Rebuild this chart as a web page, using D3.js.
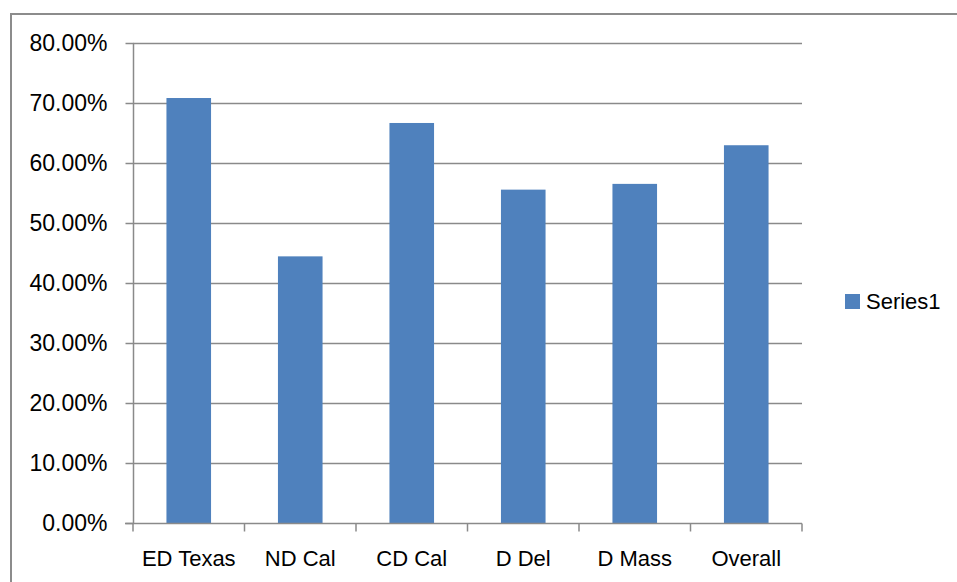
<!DOCTYPE html>
<html>
<head>
<meta charset="utf-8">
<script src="https://cdn.jsdelivr.net/npm/d3@7/dist/d3.min.js"></script>
<style>
  html, body { margin: 0; padding: 0; background: #fff; }
  svg { display: block; }
  text { font-family: "Liberation Sans", Arial, sans-serif; fill: #000; }
</style>
</head>
<body>
<svg id="chart" width="957" height="582"></svg>
<script>
// Share of outcomes per district
const categories = ["ED Texas", "ND Cal", "CD Cal", "D Del", "D Mass", "Overall"];
const series1 = [0.7083, 0.4444, 0.6667, 0.5556, 0.5652, 0.6296];
const yTicks = [0, 0.1, 0.2, 0.3, 0.4, 0.5, 0.6, 0.7, 0.8];
const seriesName = "Series1";

const svg = d3.select("#chart");
const W = 957, H = 582;

// outer chart frame
svg.append("rect")
  .attr("x", 11).attr("y", 14)
  .attr("width", W + 20).attr("height", H + 20)
  .attr("fill", "#fff")
  .attr("stroke", "#8c8c8c")
  .attr("stroke-width", 2);

const plot = { left: 133, right: 802, top: 43, bottom: 523 };

const x = d3.scaleBand()
  .domain(categories)
  .range([plot.left, plot.right])
  .paddingInner(0.6)
  .paddingOuter(0.3);

const y = d3.scaleLinear()
  .domain([0, 0.8])
  .range([plot.bottom, plot.top]);

const band = d3.scaleBand().domain(categories).range([plot.left, plot.right]);

// horizontal gridlines
svg.append("g")
  .selectAll("line")
  .data(yTicks.filter(d => d > 0))
  .join("line")
  .attr("x1", plot.left).attr("x2", plot.right)
  .attr("y1", d => Math.round(y(d)) + 0.5).attr("y2", d => Math.round(y(d)) + 0.5)
  .attr("stroke", "#8a8a8a")
  .attr("stroke-width", 1.5);

// y axis
const yAxis = d3.axisLeft(y)
  .tickValues(yTicks)
  .tickFormat(d => (d * 100).toFixed(2) + "%")
  .tickSize(8)
  .tickPadding(18);
const gy = svg.append("g")
  .attr("transform", `translate(${plot.left + 0.5},0)`)
  .call(yAxis);
gy.select(".domain").attr("stroke", "#8a8a8a").attr("stroke-width", 1.5)
  .attr("d", `M0,${plot.top}V${plot.bottom}`);
gy.selectAll(".tick line").attr("stroke", "#8a8a8a").attr("stroke-width", 1.5);
gy.selectAll(".tick text")
  .style("font-family", "'Liberation Sans', Arial, sans-serif")
  .attr("font-size", 23)
  .attr("fill", "#000");

// bars
svg.append("g")
  .selectAll("rect")
  .data(categories.map((c, i) => ({ c, v: series1[i] })))
  .join("rect")
  .attr("x", d => x(d.c))
  .attr("width", x.bandwidth())
  .attr("y", d => y(d.v))
  .attr("height", d => y(0) - y(d.v))
  .attr("fill", "#4f81bd");

// x axis with ticks at category boundaries
const gx = svg.append("g").attr("transform", `translate(0,${plot.bottom + 0.5})`);
gx.append("line")
  .attr("x1", plot.left - 8).attr("x2", plot.right)
  .attr("stroke", "#8a8a8a").attr("stroke-width", 1.5);
const boundaries = categories.map(c => band(c)).concat([plot.right]);
gx.selectAll("line.tk")
  .data(boundaries)
  .join("line")
  .attr("class", "tk")
  .attr("x1", d => d).attr("x2", d => d)
  .attr("y1", 0).attr("y2", 8)
  .attr("stroke", "#8a8a8a").attr("stroke-width", 1.5);
gx.selectAll("text")
  .data(categories)
  .join("text")
  .attr("x", d => band(d) + band.bandwidth() / 2)
  .attr("y", 42)
  .attr("text-anchor", "middle")
  .attr("font-size", 22)
  .text(d => d);

// legend
const lg = svg.append("g").attr("transform", "translate(845,294)");
lg.append("rect").attr("width", 15).attr("height", 15).attr("fill", "#4f81bd");
lg.append("text").attr("x", 21).attr("y", 15).attr("font-size", 22).text(seriesName);
</script>
</body>
</html>
